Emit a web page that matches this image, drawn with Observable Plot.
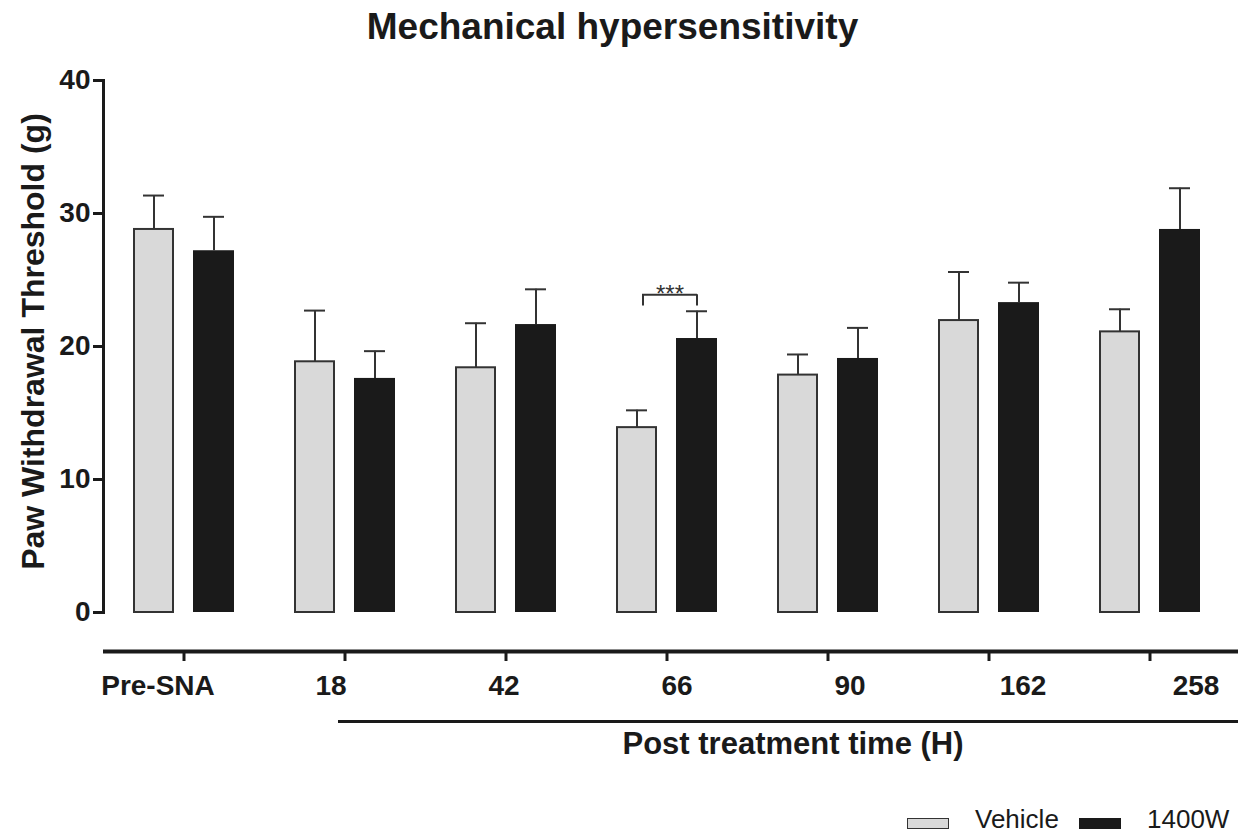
<!DOCTYPE html>
<html>
<head>
<meta charset="utf-8">
<script src="https://cdn.jsdelivr.net/npm/d3@7"></script>
<script src="https://cdn.jsdelivr.net/npm/@observablehq/plot@0.6"></script>
<style>
  body { margin: 0; background: #fff; font-family: "Liberation Sans", Arial, sans-serif; color: #1a1a1a; }
  #wrap { width: 1238px; height: 838px; position: relative; overflow: hidden; }
  #title { height: 50px; line-height: 54px; font-size: 37px; font-weight: bold; text-align: center; padding-right: 13px; }
  #chart svg { display: block; }
  #legend { position: relative; height: 38px; font-size: 26px; }
  .sw { position: absolute; top: 17.7px; width: 42px; height: 11px; box-sizing: border-box; }
  .lt { position: absolute; top: 6px; line-height: 26px; white-space: nowrap; }
</style>
</head>
<body>
<div id="wrap">
  <div id="title"></div>
  <div id="chart"></div>
  <div id="legend"></div>
</div>
<script>
// ---- data ----
const titleText = "Mechanical hypersensitivity";
const yLabel = "Paw Withdrawal Threshold (g)";
const xLabel = "Post treatment time (H)";
const groups = ["Pre-SNA", "18", "42", "66", "90", "162", "258"];
const series = ["Vehicle", "1400W"];
const vehicleMean = [28.8, 18.85, 18.4, 13.9, 17.85, 21.95, 21.1];
const vehicleSem  = [2.55, 3.85, 3.35, 1.3, 1.55, 3.65, 1.7];
const w1400Mean   = [27.2, 17.6, 21.65, 20.6, 19.1, 23.3, 28.8];
const w1400Sem    = [2.55, 2.05, 2.65, 2.05, 2.3, 1.5, 3.1];
const yTicks = [0, 10, 20, 30, 40];
const sigMarks = [{group: "66", level: 23.9, foot: 23.05, text: "***"}];

const grayFill = "#d9d9d9", darkFill = "#1a1a1a", ink = "#1a1a1a", edge = "#333333";

const vehicle = groups.map((g, i) => ({group: g, mean: vehicleMean[i], upper: vehicleMean[i] + vehicleSem[i]}));
const w1400 = groups.map((g, i) => ({group: g, mean: w1400Mean[i], upper: w1400Mean[i] + w1400Sem[i]}));

document.getElementById("title").textContent = titleText;

const plot = Plot.plot({
  width: 1238,
  height: 750,
  marginTop: 30,
  marginBottom: 188,
  marginLeft: 103,
  marginRight: 0,
  style: {fontFamily: '"Liberation Sans", Arial, sans-serif', color: ink, background: "white", overflow: "visible"},
  x: {domain: groups, range: [103, 1230], padding: 0, axis: null},
  y: {domain: [0, 40], axis: null},
  marks: [
    // y axis
    Plot.frame({anchor: "left", stroke: ink, strokeWidth: 3}),
    Plot.axisY({ticks: yTicks, tickSize: 10, tickPadding: 3, fontSize: 28, fontWeight: "bold", strokeWidth: 3, label: null}),
    Plot.text([yLabel], {frameAnchor: "left", textAnchor: "middle", rotate: -90, dx: -70, dy: -5, fontSize: 32, fontWeight: "bold", fill: ink}),
    // x axis (detached below the bars)
    Plot.ruleY([0], {dy: 39, stroke: ink, strokeWidth: 4}),
    Plot.axisX({tickSize: 10, dy: 39, strokeWidth: 3, tickFormat: () => "", label: null}),
    ...groups.map((g, i) => Plot.text([g], {x: d => d, frameAnchor: "bottom", dy: 82, dx: -26 + 12 * i, fontSize: 28, fontWeight: "bold", fill: ink})),
    Plot.ruleY([0], {dy: 109, insetLeft: 235, stroke: ink, strokeWidth: 3}),
    Plot.text([xLabel], {frameAnchor: "bottom", dy: 141, dx: 122, fontSize: 31, fontWeight: "bold", fill: ink}),
    // bars
    Plot.barY(vehicle, {x: "group", y: "mean", fill: grayFill, stroke: edge, strokeWidth: 2, insetLeft: 31, insetRight: 91}),
    Plot.barY(w1400, {x: "group", y: "mean", fill: darkFill, insetLeft: 90, insetRight: 30}),
    // error bars
    Plot.ruleX(vehicle, {x: "group", y1: "mean", y2: "upper", dx: -30, stroke: edge, strokeWidth: 2}),
    Plot.tickY(vehicle, {x: "group", y: "upper", insetLeft: 40, insetRight: 100, stroke: edge, strokeWidth: 2}),
    Plot.ruleX(w1400, {x: "group", y1: "mean", y2: "upper", dx: 30, stroke: edge, strokeWidth: 2}),
    Plot.tickY(w1400, {x: "group", y: "upper", insetLeft: 100, insetRight: 40, stroke: edge, strokeWidth: 2}),
    // significance bracket
    Plot.tickY(sigMarks, {x: "group", y: "level", insetLeft: 56, insetRight: 50, stroke: edge, strokeWidth: 2}),
    Plot.ruleX(sigMarks, {x: "group", y1: "foot", y2: "level", dx: -24, stroke: edge, strokeWidth: 2}),
    Plot.ruleX(sigMarks, {x: "group", y1: "foot", y2: "level", dx: 30, stroke: edge, strokeWidth: 2}),
    Plot.text(sigMarks, {x: "group", y: "level", text: "text", dx: 3, fontSize: 24, fill: edge})
  ]
});
document.getElementById("chart").appendChild(plot);

// legend
const legend = document.getElementById("legend");
const legendItems = [
  {name: series[0], fill: grayFill, border: "1.5px solid " + edge, swLeft: 907, textLeft: 975},
  {name: series[1], fill: darkFill, border: "none", swLeft: 1079, textLeft: 1147}
];
for (const it of legendItems) {
  const sw = document.createElement("div");
  sw.className = "sw";
  sw.style.left = it.swLeft + "px";
  sw.style.background = it.fill;
  sw.style.border = it.border;
  legend.appendChild(sw);
  const t = document.createElement("div");
  t.className = "lt";
  t.style.left = it.textLeft + "px";
  t.textContent = it.name;
  legend.appendChild(t);
}
</script>
</body>
</html>
